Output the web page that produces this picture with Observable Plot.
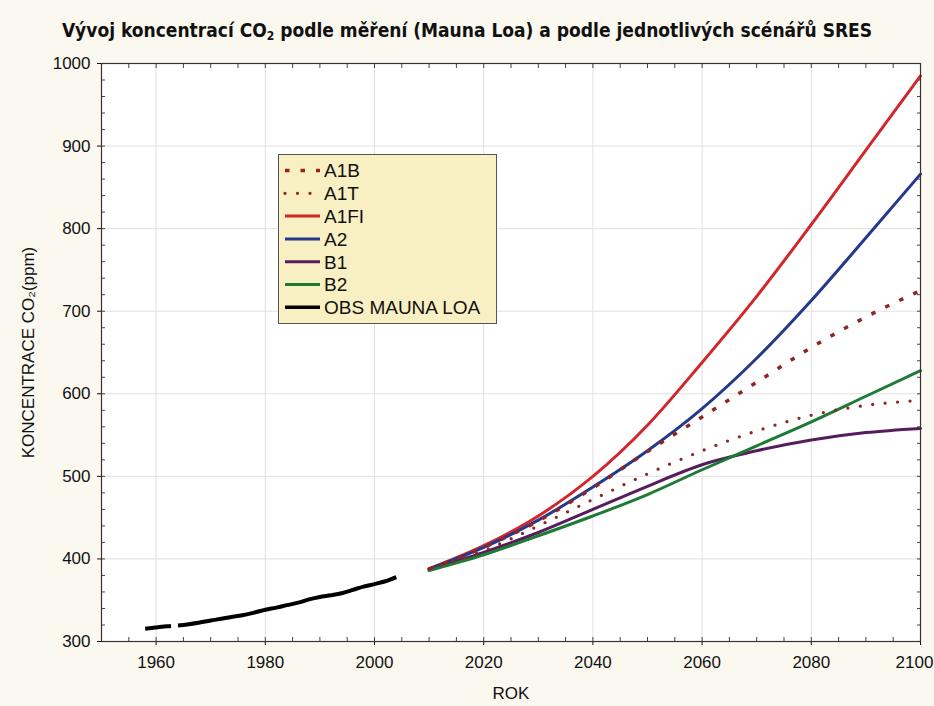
<!DOCTYPE html>
<html lang="cs">
<head>
<meta charset="utf-8">
<script src="https://cdn.jsdelivr.net/npm/d3@7"></script>
<script src="https://cdn.jsdelivr.net/npm/@observablehq/plot@0.6"></script>
<style>
  html, body { margin: 0; padding: 0; }
  body {
    width: 934px; height: 706px; overflow: hidden; position: relative;
    background: #fbf8ef;
    font-family: "Liberation Sans", Arial, sans-serif;
    color: #111;
  }
  #title {
    height: 50px; box-sizing: border-box; padding-top: 19px;
    text-align: center; font-family: "Liberation Sans Narrow", "DejaVu Sans Condensed", "Liberation Sans", sans-serif;
    font-weight: bold; font-size: 19px; line-height: 22px; white-space: nowrap;
  }
  #title sub { font-size: 12px; vertical-align: -3px; line-height: 0; }
  #legend { position: absolute; left: 278px; top: 154px; }
</style>
</head>
<body>
<div id="title">Vývoj koncentrací CO<sub>2</sub> podle měření (Mauna Loa) a podle jednotlivých scénářů SRES</div>
<div id="chart"></div>
<script>
// Scenario years and projected CO2 concentrations (ppm)
const years = [2010, 2020, 2030, 2040, 2050, 2060, 2070, 2080, 2090, 2100];
const A1B  = [388, 414, 446, 486, 530, 572, 614, 656, 693, 725];
const A1T  = [388, 410, 440, 472, 503, 531, 555, 574, 586, 592];
const A1FI = [388, 416, 452, 500, 562, 638, 718, 805, 895, 985];
const A2   = [388, 414, 447, 487, 531, 582, 643, 713, 789, 866];
const B1   = [387, 408, 432, 460, 488, 514, 531, 544, 553, 558];
const B2   = [386, 405, 428, 452, 478, 508, 537, 566, 597, 628];

// Observed concentrations at Mauna Loa (ppm)
const obsYears = [1958, 1960, 1962, 1964, 1966, 1968, 1970, 1972, 1974, 1976, 1978, 1980,
                  1982, 1984, 1986, 1988, 1990, 1992, 1994, 1996, 1998, 2000, 2002, 2004];
const obsValues = [315.5, 317, 318.5, 319.5, 321, 323, 325.5, 327.5, 330, 332, 335, 338.5,
                   341, 344, 347, 351, 354, 356, 358.5, 362.5, 366.5, 369.5, 373, 378];

// Axis ticks
const xTicks = [1960, 1980, 2000, 2020, 2040, 2060, 2080, 2100];
const xMinorTicks = d3.range(1950, 2101, 5);
const yTicks = [300, 400, 500, 600, 700, 800, 900, 1000];
const yMinorTicks = d3.range(300, 1001, 20);

// Series styling, in drawing order
const series = [
  {name: "A1FI", values: A1FI, color: "#d3262a", width: 3},
  {name: "A2",   values: A2,   color: "#24398c", width: 3},
  {name: "B1",   values: B1,   color: "#561d5c", width: 3},
  {name: "B2",   values: B2,   color: "#1f7a36", width: 3},
  {name: "A1B",  values: A1B,  color: "#8e2626", width: 3.5, dash: "4.5,11", cap: "butt"},
  {name: "A1T",  values: A1T,  color: "#8e2626", width: 3.3, dash: "0,12.5", cap: "round"}
];
const obs = {name: "OBS MAUNA LOA", color: "#000", width: 4, dash: "26,7,2000"};
const legendOrder = ["A1B", "A1T", "A1FI", "A2", "B1", "B2", "OBS MAUNA LOA"];

const toRows = s => years.map((year, i) => ({year, value: s.values[i]}));
const obsRows = obsYears.map((year, i) => ({year, value: obsValues[i]}));

const lineMarks = series.map(s => Plot.line(toRows(s), {
  x: "year", y: "value", stroke: s.color, strokeWidth: s.width,
  strokeDasharray: s.dash, strokeLinecap: s.cap || "round", curve: "monotone-x"
}));

const lastX = xTicks[xTicks.length - 1];

const chart = Plot.plot({
  width: 934, height: 656,
  marginTop: 13, marginRight: 14, marginBottom: 65, marginLeft: 101,
  style: {fontFamily: "'Liberation Sans', Arial, sans-serif", fontSize: "17px", color: "#111", background: "transparent", overflow: "visible"},
  x: {domain: [1950, 2100]},
  y: {domain: [300, 1000]},
  marks: [
    Plot.frame({fill: "white", stroke: null}),
    Plot.gridX(xTicks, {stroke: "#e0e0e0", strokeOpacity: 1}),
    Plot.gridY(yTicks, {stroke: "#e0e0e0", strokeOpacity: 1}),
    Plot.axisX(xMinorTicks, {anchor: "bottom", tickSize: -4, tickFormat: () => "", label: null, stroke: "#444"}),
    Plot.axisX(xMinorTicks, {anchor: "top", tickSize: -4, tickFormat: () => "", label: null, stroke: "#444"}),
    Plot.axisY(yMinorTicks, {anchor: "left", tickSize: -4, tickFormat: () => "", label: null, stroke: "#444"}),
    Plot.axisY(yMinorTicks, {anchor: "right", tickSize: -4, tickFormat: () => "", label: null, stroke: "#444"}),
    Plot.axisX(xTicks, {anchor: "bottom", tickSize: 4, tickPadding: 10,
      tickFormat: d => d === lastX ? "" : String(d),
      label: "ROK", labelAnchor: "center", labelArrow: "none", labelOffset: 57}),
    // the last year label is nudged left so it stays inside the page
    Plot.axisX([lastX], {anchor: "bottom", tickSize: 0, tickPadding: 14, dx: -6,
      tickFormat: d => String(d), label: null}),
    Plot.axisY(yTicks, {anchor: "left", tickSize: 4, tickPadding: 7, tickFormat: d => String(d),
      label: "KONCENTRACE CO₂(ppm)", labelAnchor: "center", labelArrow: "none", labelOffset: 80}),
    ...lineMarks,
    Plot.line(obsRows, {x: "year", y: "value", stroke: obs.color, strokeWidth: obs.width,
      strokeDasharray: obs.dash, strokeLinecap: "butt", curve: "monotone-x"}),
    Plot.frame({stroke: "#333", strokeWidth: 1.2})
  ]
});
document.getElementById("chart").appendChild(chart);

// Legend box
const styleOf = name => name === obs.name ? obs : series.find(s => s.name === name);
const rowH = 22.8, lw = 219, lh = 170;
const legend = d3.select("body").append("svg")
  .attr("id", "legend").attr("width", lw).attr("height", lh)
  .style("font-family", "'Liberation Sans', Arial, sans-serif").style("font-size", "19px");
legend.append("rect").attr("x", 0.5).attr("y", 0.5).attr("width", lw - 1).attr("height", lh - 1)
  .attr("fill", "#f8f0c2").attr("stroke", "#555").attr("stroke-width", 1);
const item = legend.selectAll("g.item").data(legendOrder).join("g")
  .attr("class", "item").attr("transform", (d, i) => `translate(0,${16.5 + i * rowH})`);
item.append("line").attr("x1", 7).attr("x2", 42).attr("y1", 0).attr("y2", 0)
  .attr("stroke", d => styleOf(d).color)
  .attr("stroke-width", d => Math.min(styleOf(d).width, 3.6))
  .attr("stroke-dasharray", d => d === obs.name ? null : (styleOf(d).dash || null))
  .attr("stroke-linecap", d => d === obs.name ? "butt" : (styleOf(d).cap || "butt"));
item.append("text").attr("x", 46).attr("y", 0).attr("dy", "0.36em").attr("fill", "#111").text(d => d);
</script>
</body>
</html>
